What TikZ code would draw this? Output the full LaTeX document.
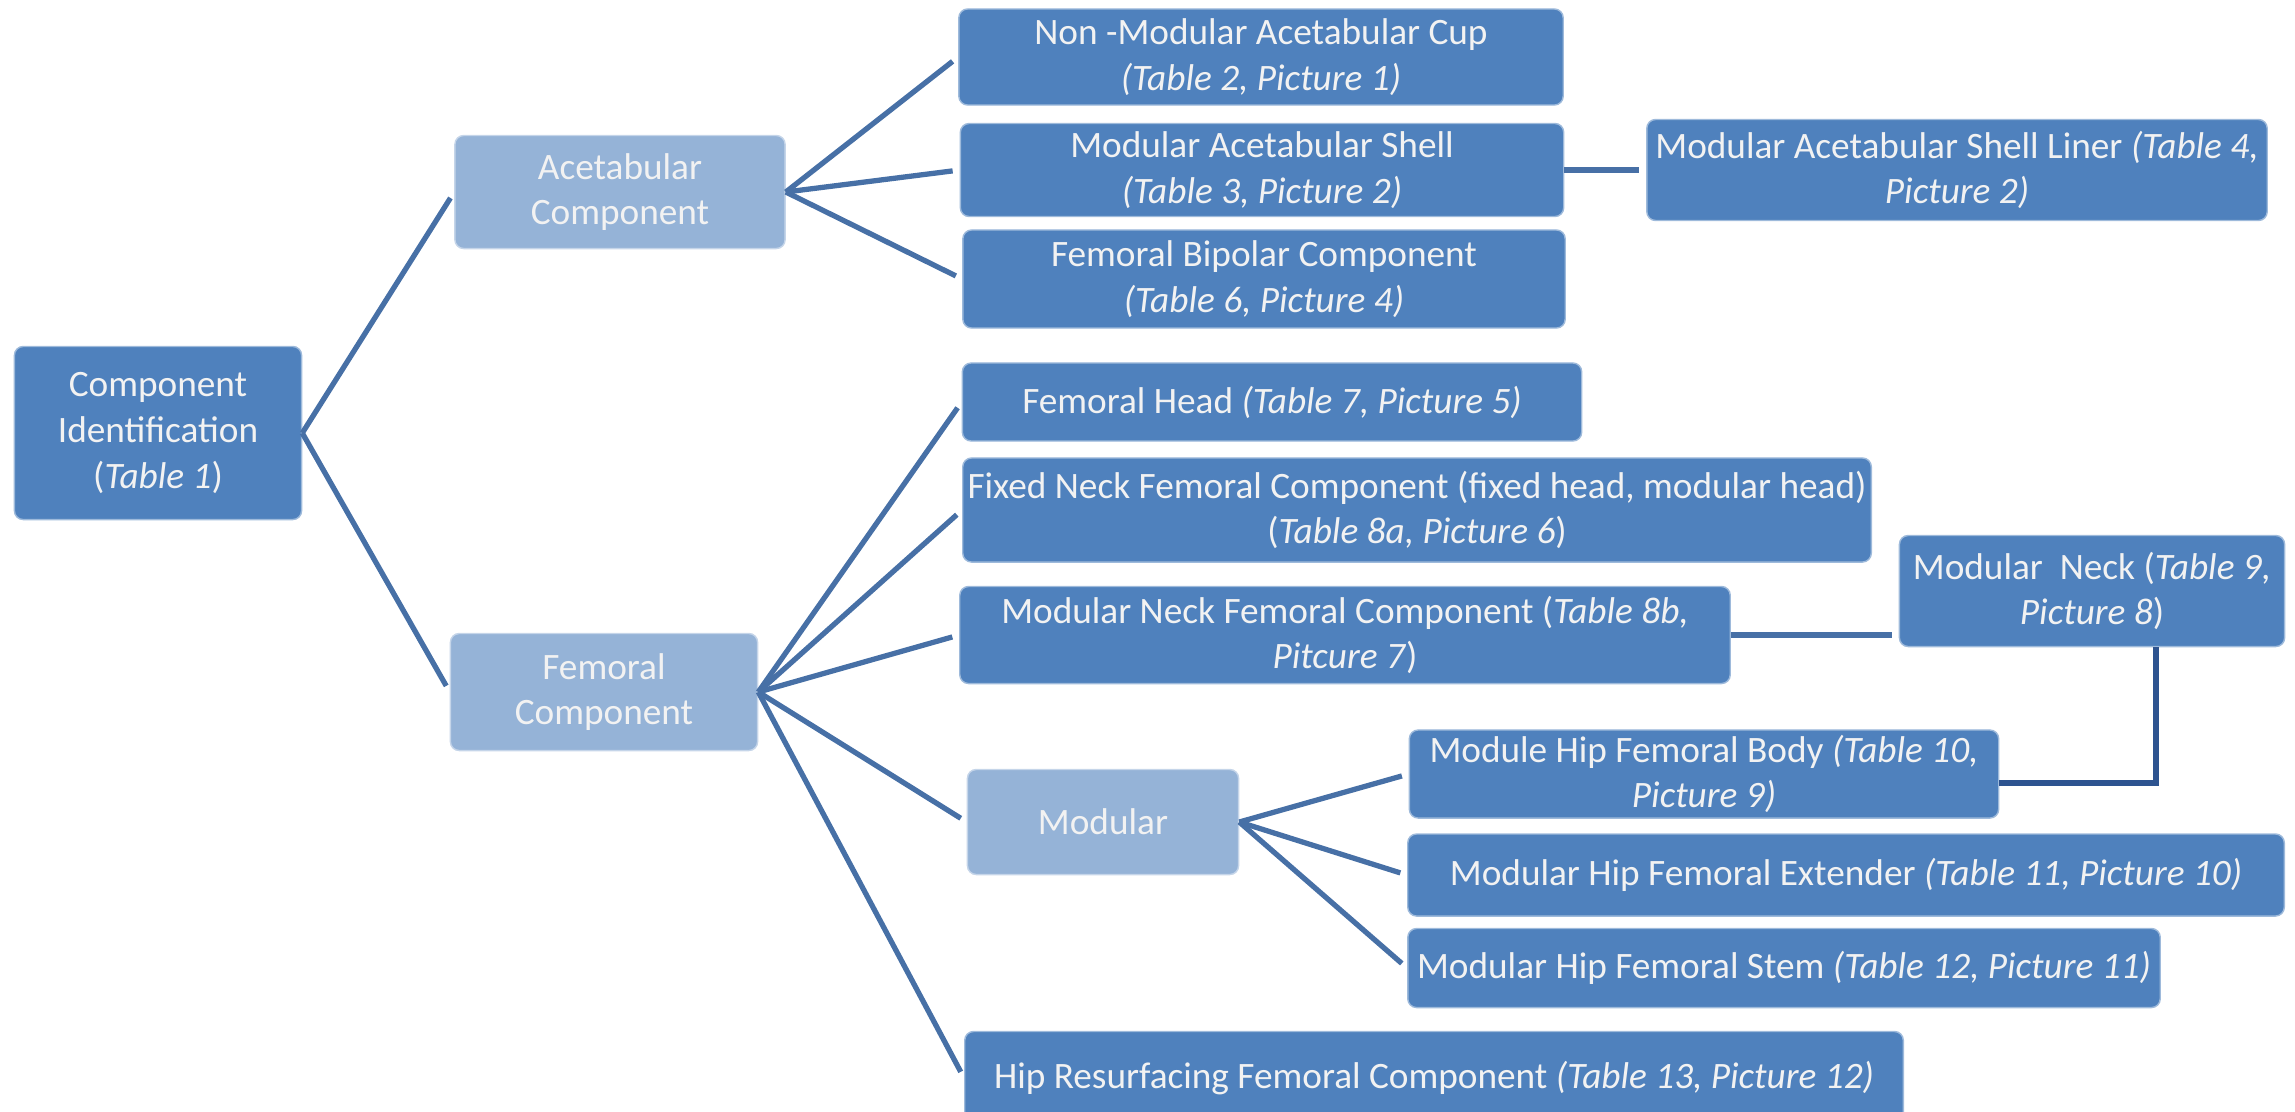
\documentclass[tikz,border=0pt]{standalone}
\usepackage{fontspec}
\setmainfont{Carlito}

\definecolor{boxblue}{HTML}{4F81BD}
\definecolor{lightblue}{HTML}{95B3D7}
\definecolor{linkblue}{HTML}{4770A6}
\definecolor{elbowblue}{HTML}{2E5490}

\begin{document}
\begin{tikzpicture}[x=0.01cm, y=-0.01cm]

\tikzset{
  dark box/.style={
    fill=boxblue, draw=boxblue!55!white, line width=0.4pt,
    rounded corners=2.5pt, text=white!95!black, align=center,
    inner sep=0pt, font=\fontsize{10.6}{13}\selectfont,
  },
  light box/.style={dark box, fill=lightblue, draw=lightblue!55!white},
  link/.style={draw=linkblue, line width=1.5pt, shorten >=2pt},
  elbow/.style={draw=elbowblue, line width=1.5pt},
}

  \useasboundingbox (0,0) rectangle (2295,1111);

  % Level 0
  \node[dark box, minimum width=2.87cm, minimum height=1.73cm] (root) at (158,433)
    {Component\\Identification\\(\textit{Table 1})};

  % Level 1
  \node[light box, minimum width=3.30cm, minimum height=1.13cm] (acet) at (620,192)
    {Acetabular\\Component};
  \node[light box, minimum width=3.07cm, minimum height=1.17cm] (fem) at (604,692)
    {Femoral\\Component};

  % Level 2 (acetabular)
  \node[dark box, minimum width=6.04cm, minimum height=0.96cm] (cup) at (1261,57)
    {Non -Modular Acetabular Cup\\\textit{(Table 2, Picture 1)}};
  \node[dark box, minimum width=6.03cm, minimum height=0.93cm] (shell) at (1262,170)
    {Modular Acetabular Shell\\\textit{(Table 3, Picture 2)}};
  \node[dark box, minimum width=6.02cm, minimum height=0.98cm] (bipolar) at (1264,279)
    {Femoral Bipolar Component\\\textit{(Table 6, Picture 4)}};
  \node[dark box, minimum width=6.20cm, minimum height=1.01cm] (liner) at (1957,170)
    {Modular Acetabular Shell Liner \textit{(Table 4,}\\\textit{Picture 2)}};

  % Level 2 (femoral)
  \node[dark box, minimum width=6.19cm, minimum height=0.78cm] (head) at (1272,402)
    {Femoral Head \textit{(Table 7, Picture 5)}};
  \node[dark box, minimum width=9.08cm, minimum height=1.04cm] (fixneck) at (1417,510)
    {Fixed Neck Femoral Component (fixed head, modular head)\\(\textit{Table 8a, Picture 6})};
  \node[dark box, minimum width=7.70cm, minimum height=0.97cm] (modneckfem) at (1345,635)
    {Modular Neck Femoral Component (\textit{Table 8b,}\\\textit{Pitcure 7})};
  \node[dark box, minimum width=3.85cm, minimum height=1.11cm] (modneck) at (2092,591)
    {Modular~~Neck (\textit{Table 9,}\\\textit{Picture 8})};
  \node[light box, minimum width=2.71cm, minimum height=1.05cm] (modular) at (1103,822)
    {Modular};
  \node[dark box, minimum width=9.38cm, minimum height=0.93cm] (resurf) at (1434,1078)
    {Hip Resurfacing Femoral Component \textit{(Table 13, Picture 12)}};

  % Level 3 (modular)
  \node[dark box, minimum width=5.89cm, minimum height=0.88cm] (body) at (1704,774)
    {Module Hip Femoral Body \textit{(Table 10,}\\\textit{Picture 9)}};
  \node[dark box, minimum width=8.76cm, minimum height=0.82cm] (extender) at (1846,875)
    {Modular Hip Femoral Extender \textit{(Table 11, Picture 10)}};
  \node[dark box, minimum width=7.52cm, minimum height=0.79cm] (stem) at (1784,968)
    {Modular Hip Femoral Stem \textit{(Table 12, Picture 11)}};

  % Edges
  \draw[link] (root.east) -- (acet.west);
  \draw[link] (root.east) -- (fem.west);

  \draw[link] (acet.east) -- (cup.west);
  \draw[link] (acet.east) -- (shell.west);
  \draw[link] (acet.east) -- (bipolar.west);
  \draw[link] (shell.east) -- (liner.west);

  \draw[link] (fem.east) -- (head.west);
  \draw[link] (fem.east) -- (fixneck.west);
  \draw[link] (fem.east) -- (modneckfem.west);
  \draw[link] (fem.east) -- (modular.west);
  \draw[link] (fem.east) -- (resurf.west);
  \draw[link] (modneckfem.east) -- (modneckfem.east -| modneck.west);

  \draw[link] (modular.east) -- (body.west);
  \draw[link] (modular.east) -- (extender.west);
  \draw[link] (modular.east) -- (stem.west);

  \draw[elbow] ([xshift=0.64cm]modneck.south) |- ([yshift=-0.09cm]body.east);
\end{tikzpicture}
\end{document}
